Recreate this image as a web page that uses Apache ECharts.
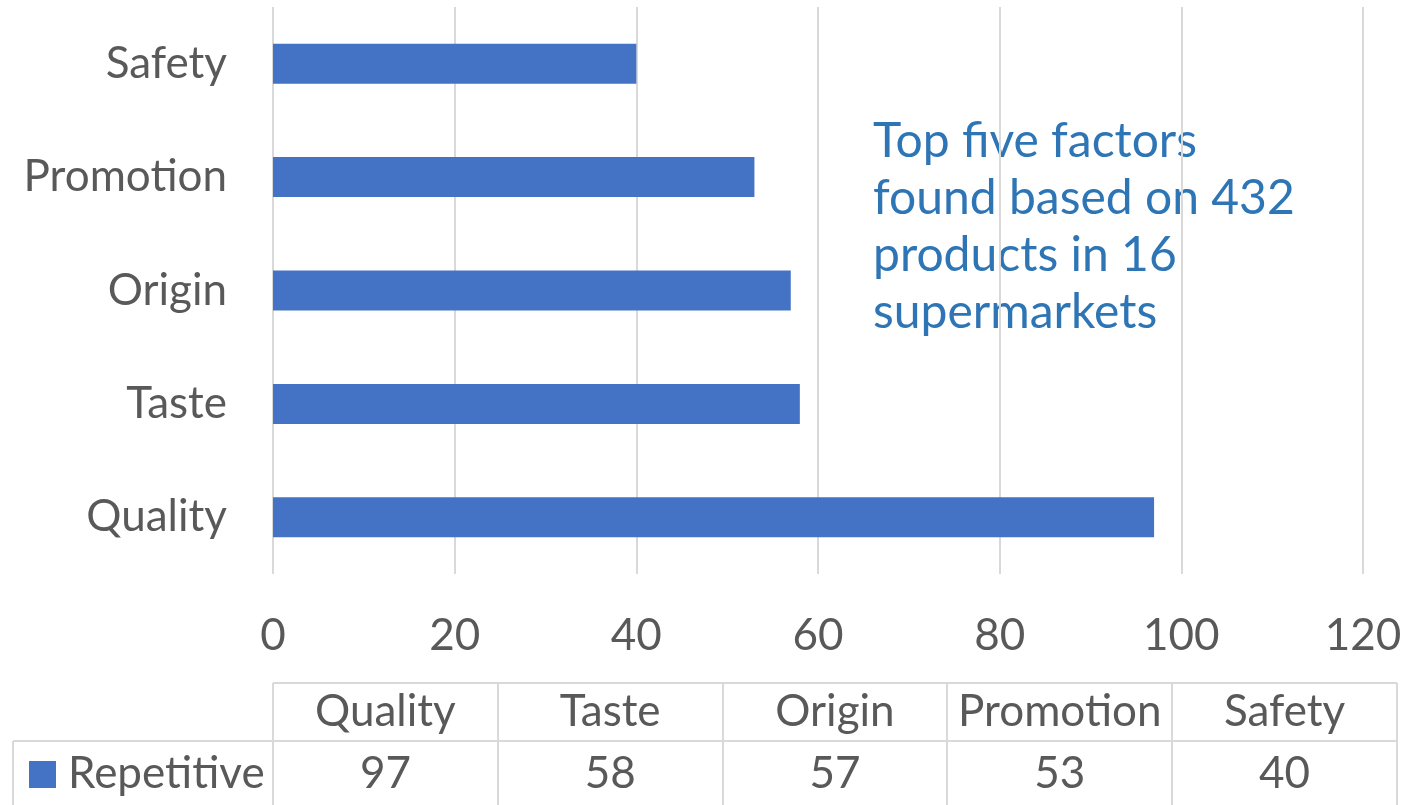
<!DOCTYPE html>
<html><head><meta charset="utf-8">
<script src="https://cdn.jsdelivr.net/npm/echarts@6/dist/echarts.min.js"></script>
<style>html,body{margin:0;padding:0;background:#fff}#c{width:1425px;height:805px}</style>
</head><body><div id="c"></div>
<script>
const categories = ['Quality', 'Taste', 'Origin', 'Promotion', 'Safety'];
const values = [97, 58, 57, 53, 40];
const seriesName = 'Repetitive';
const xTicks = [0, 20, 40, 60, 80, 100, 120];
const note = ['Top five factors', 'found based on 432', 'products in 16', 'supermarkets'];

const FONT = 'Lato';
const FS = 44;
const TXT = '#595959';
const GRIDC = '#D9D9D9';
const BAR = '#4472C4';

const chart = echarts.init(document.getElementById('c'));
const L = 273, R = 1363, T = 7, B = 574;
const tabL = 273, tabR = 1397, rowTop = 683, rowMid = 741, rowBot = 805, legL = 13;
const colW = (tabR - tabL) / categories.length;

const g = [];
g.push({type:'line', shape:{x1:tabL,y1:rowTop,x2:tabR,y2:rowTop}, style:{stroke:GRIDC,lineWidth:2}});
g.push({type:'line', shape:{x1:legL,y1:rowMid,x2:tabR,y2:rowMid}, style:{stroke:GRIDC,lineWidth:2}});
g.push({type:'line', shape:{x1:legL,y1:rowMid,x2:legL,y2:rowBot}, style:{stroke:GRIDC,lineWidth:2}});
for (let i = 0; i <= categories.length; i++) {
  const x = Math.round(tabL + i * colW);
  g.push({type:'line', shape:{x1:x,y1:rowTop,x2:x,y2:rowBot}, style:{stroke:GRIDC,lineWidth:2}});
}
categories.forEach((c, i) => {
  const cx = tabL + (i + 0.5) * colW;
  g.push({type:'text', x:cx, y:(rowTop+rowMid)/2, style:{text:c, font:FS+'px '+FONT, fill:TXT, align:'center', verticalAlign:'middle'}});
  g.push({type:'text', x:cx, y:(rowMid+rowBot)/2 + 1, style:{text:String(values[i]), font:FS+'px '+FONT, fill:TXT, align:'center', verticalAlign:'middle'}});
});
g.push({type:'rect', shape:{x:29,y:761,width:27,height:27}, style:{fill:BAR}});
g.push({type:'text', x:68, y:(rowMid+rowBot)/2 + 1, style:{text:seriesName, font:FS+'px '+FONT, fill:TXT, align:'left', verticalAlign:'middle'}});
g.push({type:'text', x:873, y:113, style:{text:note.join('\n'), font:'48px '+FONT, fill:'#2E75B6', lineHeight:57, align:'left', verticalAlign:'top'}});

chart.setOption({
  animation:false,
  grid:{left:L, right:1425-R, top:T, bottom:805-B, containLabel:false},
  xAxis:{type:'value', min:xTicks[0], max:xTicks[xTicks.length-1], interval:20,
    axisLine:{show:false}, axisTick:{show:false},
    splitLine:{show:true, lineStyle:{color:GRIDC, width:2}},
    axisLabel:{color:TXT, fontFamily:FONT, fontSize:FS, margin:40}},
  yAxis:{type:'category', data:categories,
    axisLine:{show:false}, axisTick:{show:false},
    axisLabel:{color:TXT, fontFamily:FONT, fontSize:FS, margin:46}},
  series:[{type:'bar', name:seriesName, data:values, barWidth:40, itemStyle:{color:BAR}}],
  graphic:g
});
</script></body></html>
